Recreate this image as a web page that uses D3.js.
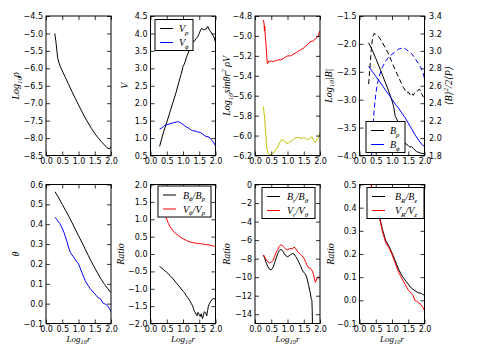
<!DOCTYPE html>
<html><head><meta charset="utf-8">
<script src="https://cdn.jsdelivr.net/npm/d3@7"></script>
<style>body{margin:0;background:#fff}svg{display:block}</style>
</head><body>
<svg id="c" width="479" height="359"></svg>
<script>
// ---------- DATA ----------
const xTicks = [0, 0.5, 1.0, 1.5, 2.0];
const logRho = [[0.27,-5.0],[0.3,-5.2],[0.33,-5.45],[0.36,-5.7],[0.39,-5.82],[0.45,-5.97],[0.5,-6.07],[0.6,-6.27],[0.7,-6.47],[0.8,-6.67],[0.9,-6.86],[1.0,-7.05],[1.1,-7.23],[1.2,-7.41],[1.3,-7.57],[1.4,-7.73],[1.5,-7.87],[1.6,-7.99],[1.7,-8.1],[1.8,-8.2],[1.88,-8.28],[1.94,-8.31],[1.98,-8.29],[2.0,-8.24]];
const vP = [[0.28,0.76],[0.35,1.0],[0.4,1.17],[0.5,1.45],[0.6,1.75],[0.7,2.05],[0.8,2.35],[0.9,2.7],[0.95,2.85],[1.0,3.05],[1.03,3.1],[1.07,3.2],[1.1,3.3],[1.15,3.42],[1.2,3.55],[1.25,3.62],[1.3,3.75],[1.35,3.78],[1.4,3.85],[1.45,3.9],[1.5,4.0],[1.55,4.12],[1.58,4.15],[1.62,4.1],[1.67,4.12],[1.72,4.13],[1.76,4.2],[1.8,4.12],[1.85,4.05],[1.9,3.98],[1.95,3.9],[2.0,3.75]];
const vPhi = [[0.28,1.26],[0.35,1.29],[0.4,1.33],[0.45,1.37],[0.5,1.38],[0.6,1.41],[0.7,1.44],[0.8,1.46],[0.85,1.47],[0.9,1.45],[0.95,1.42],[1.0,1.39],[1.05,1.35],[1.1,1.32],[1.2,1.27],[1.25,1.23],[1.3,1.21],[1.4,1.2],[1.45,1.17],[1.5,1.17],[1.55,1.15],[1.6,1.12],[1.65,1.08],[1.7,1.05],[1.8,1.03],[1.85,0.97],[1.9,0.93],[1.95,0.86],[2.0,0.78]];
const fluxRed = [[0.26,-4.84],[0.28,-4.88],[0.29,-4.95],[0.3,-4.9],[0.31,-4.97],[0.33,-5.05],[0.35,-5.14],[0.37,-5.25],[0.38,-5.28],[0.4,-5.27],[0.43,-5.25],[0.47,-5.26],[0.5,-5.25],[0.55,-5.26],[0.6,-5.25],[0.65,-5.25],[0.7,-5.24],[0.8,-5.24],[0.9,-5.22],[1.0,-5.2],[1.1,-5.2],[1.2,-5.18],[1.3,-5.16],[1.4,-5.14],[1.5,-5.12],[1.6,-5.09],[1.7,-5.06],[1.8,-5.05],[1.85,-5.03],[1.9,-5.02],[1.95,-5.0],[1.97,-4.97],[2.0,-4.95]];
const fluxYellow = [[0.26,-5.71],[0.28,-5.78],[0.3,-5.82],[0.31,-5.9],[0.33,-5.97],[0.35,-6.08],[0.37,-6.14],[0.4,-6.18],[0.45,-6.19],[0.5,-6.19],[0.55,-6.18],[0.6,-6.16],[0.67,-6.13],[0.72,-6.1],[0.78,-6.06],[0.82,-6.04],[0.88,-6.05],[0.95,-6.07],[1.02,-6.08],[1.08,-6.06],[1.14,-6.05],[1.2,-6.03],[1.28,-6.02],[1.35,-6.02],[1.42,-6.03],[1.5,-6.02],[1.56,-6.03],[1.62,-6.04],[1.68,-6.03],[1.75,-6.01],[1.8,-6.05],[1.85,-6.07],[1.9,-6.04],[1.95,-6.02],[2.0,-5.97]];
const bP = [[0.28,-1.98],[0.4,-2.12],[0.5,-2.26],[0.6,-2.4],[0.7,-2.55],[0.8,-2.7],[0.9,-2.85],[1.0,-3.02],[1.05,-3.12],[1.1,-3.3],[1.15,-3.35],[1.2,-3.42],[1.25,-3.55],[1.3,-3.66],[1.35,-3.72],[1.4,-3.78],[1.5,-3.82],[1.55,-3.85],[1.6,-3.84],[1.65,-3.87],[1.7,-3.9],[1.75,-3.93],[1.8,-3.94],[1.9,-3.96],[2.0,-3.97]];
const bPhi = [[0.28,-2.4],[0.4,-2.5],[0.5,-2.58],[0.6,-2.66],[0.7,-2.74],[0.8,-2.83],[0.9,-2.91],[1.0,-2.99],[1.1,-3.08],[1.2,-3.15],[1.3,-3.24],[1.4,-3.32],[1.5,-3.42],[1.6,-3.52],[1.7,-3.62],[1.8,-3.71],[1.9,-3.79],[2.0,-3.84]];
const betaP = [[0.28,2.62],[0.32,2.8],[0.36,3.0],[0.4,3.15],[0.45,3.2],[0.5,3.19],[0.6,3.16],[0.7,3.1],[0.8,3.03],[0.9,2.96],[1.0,2.87],[1.1,2.78],[1.2,2.7],[1.3,2.62],[1.35,2.58],[1.4,2.55],[1.45,2.52],[1.5,2.53],[1.55,2.5],[1.6,2.52],[1.65,2.49],[1.7,2.52],[1.75,2.52],[1.8,2.55],[1.85,2.56],[1.9,2.52],[1.95,2.48],[2.0,2.46]];
const betaPhi = [[0.37,1.8],[0.4,2.05],[0.45,2.32],[0.5,2.5],[0.55,2.62],[0.6,2.7],[0.7,2.81],[0.8,2.88],[0.9,2.93],[1.0,2.96],[1.1,2.99],[1.2,3.02],[1.3,3.03],[1.4,3.03],[1.45,3.01],[1.5,3.0],[1.6,2.97],[1.7,2.92],[1.8,2.86],[1.9,2.8],[1.95,2.76],[2.0,2.68]];
const thetaBlack = [[0.28,0.563],[0.4,0.53],[0.5,0.5],[0.6,0.47],[0.7,0.44],[0.8,0.408],[0.9,0.375],[1.0,0.342],[1.1,0.31],[1.2,0.276],[1.3,0.243],[1.4,0.21],[1.5,0.18],[1.6,0.15],[1.7,0.122],[1.8,0.097],[1.9,0.076],[2.0,0.055]];
const thetaBlue = [[0.28,0.435],[0.35,0.42],[0.42,0.405],[0.5,0.38],[0.55,0.36],[0.6,0.335],[0.65,0.31],[0.7,0.28],[0.75,0.258],[0.8,0.245],[0.85,0.235],[0.9,0.222],[0.95,0.21],[1.0,0.2],[1.05,0.18],[1.1,0.158],[1.15,0.138],[1.2,0.118],[1.25,0.103],[1.3,0.09],[1.35,0.078],[1.4,0.068],[1.45,0.058],[1.5,0.05],[1.55,0.04],[1.6,0.03],[1.65,0.028],[1.7,0.018],[1.75,0.003],[1.8,0.0],[1.85,-0.005],[1.9,-0.012],[1.95,-0.025],[2.0,-0.04]];
const bPhiOverBp = [[0.28,-0.36],[0.35,-0.41],[0.4,-0.45],[0.5,-0.53],[0.6,-0.62],[0.7,-0.72],[0.8,-0.84],[0.9,-0.95],[1.0,-1.07],[1.05,-1.12],[1.1,-1.2],[1.15,-1.26],[1.2,-1.33],[1.25,-1.42],[1.3,-1.5],[1.33,-1.6],[1.36,-1.66],[1.4,-1.73],[1.43,-1.78],[1.46,-1.68],[1.5,-1.74],[1.53,-1.8],[1.56,-1.72],[1.6,-1.86],[1.63,-1.75],[1.66,-1.66],[1.7,-1.7],[1.73,-1.78],[1.76,-1.62],[1.78,-1.5],[1.82,-1.42],[1.86,-1.35],[1.9,-1.3],[1.95,-1.28],[2.0,-1.3]];
const vPhiOverVp = [[0.28,1.66],[0.32,1.52],[0.36,1.4],[0.4,1.28],[0.45,1.12],[0.5,1.0],[0.55,0.88],[0.6,0.79],[0.7,0.66],[0.8,0.57],[0.9,0.5],[1.0,0.44],[1.1,0.39],[1.2,0.35],[1.3,0.33],[1.4,0.31],[1.5,0.3],[1.6,0.29],[1.7,0.27],[1.8,0.26],[1.9,0.24],[2.0,0.21]];
const brOverBth = [[0.26,-7.6],[0.3,-8.0],[0.35,-8.5],[0.4,-8.9],[0.45,-9.15],[0.5,-9.2],[0.55,-9.0],[0.6,-8.5],[0.65,-7.95],[0.7,-7.45],[0.75,-7.1],[0.8,-7.0],[0.85,-7.15],[0.9,-7.45],[0.95,-7.7],[1.0,-7.8],[1.05,-7.7],[1.1,-7.55],[1.15,-7.45],[1.2,-7.5],[1.25,-7.75],[1.3,-8.05],[1.35,-8.4],[1.4,-8.75],[1.45,-9.2],[1.5,-9.5],[1.55,-9.65],[1.6,-10.1],[1.65,-10.9],[1.7,-11.7],[1.73,-12.3],[1.75,-12.5],[1.76,-13.5],[1.77,-15.5]];
const vrOverVth = [[0.26,-7.6],[0.3,-7.85],[0.35,-8.15],[0.4,-8.35],[0.45,-8.45],[0.5,-8.4],[0.55,-8.2],[0.6,-7.8],[0.65,-7.3],[0.7,-7.0],[0.75,-6.65],[0.8,-6.5],[0.85,-6.6],[0.9,-6.8],[0.95,-7.0],[1.0,-7.05],[1.05,-6.95],[1.1,-6.9],[1.15,-6.95],[1.2,-6.75],[1.25,-6.9],[1.3,-7.2],[1.35,-7.4],[1.4,-7.55],[1.45,-7.7],[1.5,-7.95],[1.55,-8.3],[1.6,-8.7],[1.65,-9.0],[1.7,-9.05],[1.75,-9.25],[1.8,-9.7],[1.83,-10.2],[1.86,-10.55],[1.9,-10.2],[1.95,-9.95],[2.0,-10.1]];
const bROverBz = [[0.28,0.52],[0.35,0.5],[0.4,0.48],[0.5,0.43],[0.6,0.37],[0.7,0.31],[0.8,0.26],[0.9,0.235],[1.0,0.205],[1.1,0.17],[1.2,0.135],[1.3,0.108],[1.4,0.088],[1.5,0.07],[1.6,0.052],[1.7,0.042],[1.8,0.033],[1.9,0.03],[1.95,0.025],[2.0,0.022]];
const vROverVz = [[0.28,0.52],[0.35,0.5],[0.4,0.48],[0.5,0.43],[0.6,0.365],[0.7,0.3],[0.8,0.252],[0.9,0.228],[1.0,0.198],[1.1,0.16],[1.2,0.122],[1.3,0.095],[1.4,0.07],[1.5,0.045],[1.6,0.03],[1.65,0.02],[1.7,0.0],[1.75,-0.003],[1.8,-0.008],[1.9,-0.02],[1.95,-0.03],[2.0,-0.045]];

const yTicks1 = [-8.5,-8,-7.5,-7,-6.5,-6,-5.5,-5,-4.5];
const yTicks2 = [0.5,1,1.5,2,2.5,3,3.5,4,4.5];
const yTicks3 = [-6.2,-6,-5.8,-5.6,-5.4,-5.2,-5,-4.8];
const yTicks4L = [-4,-3.5,-3,-2.5,-2,-1.5];
const yTicks4R = [1.8,2,2.2,2.4,2.6,2.8,3,3.2,3.4];
const yTicks5 = [-0.1,0,0.1,0.2,0.3,0.4,0.5,0.6];
const yTicks6 = [-2,-1.5,-1,-0.5,0,0.5,1,1.5,2];
const yTicks7 = [-14,-12,-10,-8,-6,-4,-2,0];
const yTicks8 = [-0.1,0,0.1,0.2,0.3,0.4,0.5];

// ---------- LAYOUT ----------
const svg = d3.select("#c");
const colLeft = [46, 150.5, 255, 359.5];
const W = 65;
const rows = [{top: 16, bottom: 155.5}, {top: 184.5, bottom: 323.5}];
const SERIF = "'Liberation Serif','DejaVu Serif',serif";
const SANS = "'DejaVu Sans',sans-serif";
let clipId = 0;

function richText(g, x, y, parts, size, opts = {}) {
  const t = g.append("text").attr("x", x).attr("y", y)
    .attr("font-family", SERIF).attr("font-style", "italic")
    .attr("font-size", size).attr("fill", "#000");
  if (opts.anchor) t.attr("text-anchor", opts.anchor);
  if (opts.rotate) t.attr("transform", `rotate(-90,${x},${y})`);
  let shift = 0;
  parts.forEach(p => {
    const ts = t.append("tspan").text(p.t);
    let target = 0;
    if (p.sub) { ts.attr("font-size", size * 0.7); target = size * 0.25; }
    else if (p.sup) { ts.attr("font-size", size * 0.7); target = -size * 0.4; }
    ts.attr("dy", target - shift);
    shift = target;
  });
  return t;
}

function panel(opt) {
  const left = colLeft[opt.col], right = left + W;
  const {top, bottom} = rows[opt.row];
  const x = d3.scaleLinear().domain([0, 2]).range([left, right]);
  const y = d3.scaleLinear().domain(opt.yDomain).range([bottom, top]);
  const g = svg.append("g");
  const id = "clip" + (clipId++);
  g.append("clipPath").attr("id", id).append("rect")
    .attr("x", left).attr("y", top).attr("width", W).attr("height", bottom - top);
  const plot = g.append("g").attr("clip-path", `url(#${id})`);
  opt.series.forEach(s => {
    const ys = s.right ? opt.yRight : y;
    plot.append("path").datum(s.data)
      .attr("fill", "none").attr("stroke", s.color).attr("stroke-width", 1)
      .attr("stroke-dasharray", s.dash || null)
      .attr("stroke-linejoin", "round")
      .attr("d", d3.line().x(d => x(d[0])).y(d => ys(d[1])));
  });
  const fmtX = d3.format(".1f");
  const axB = g.append("g").attr("transform", `translate(0,${bottom})`)
    .call(d3.axisBottom(x).tickValues(xTicks).tickFormat(fmtX).tickSize(-4).tickPadding(3));
  const axT = g.append("g").attr("transform", `translate(0,${top})`)
    .call(d3.axisTop(x).tickValues(xTicks).tickFormat("").tickSize(-4));
  const axL = g.append("g").attr("transform", `translate(${left},0)`)
    .call(d3.axisLeft(y).tickValues(opt.yTicks).tickFormat(d3.format(opt.yFmt)).tickSize(-4).tickPadding(3));
  let axR;
  if (opt.yRight) {
    axR = g.append("g").attr("transform", `translate(${right},0)`)
      .call(d3.axisRight(opt.yRight).tickValues(opt.yTicksR).tickFormat(d3.format(".1f")).tickSize(-4).tickPadding(4.5));
  } else {
    axR = g.append("g").attr("transform", `translate(${right},0)`)
      .call(d3.axisRight(y).tickValues(opt.yTicks).tickFormat("").tickSize(-4));
  }
  [axB, axT, axL, axR].forEach(a => {
    a.select(".domain").remove();
    a.selectAll("line").attr("stroke", "#000").attr("stroke-width", 0.8);
    a.selectAll("text").attr("font-family", SANS).attr("font-size", 8).attr("fill", "#000");
  });
  g.append("rect").attr("x", left).attr("y", top).attr("width", W).attr("height", bottom - top)
    .attr("fill", "none").attr("stroke", "#000").attr("stroke-width", 1);
  const cy = (top + bottom) / 2;
  richText(g, left - (opt.ylabOff || 26), cy, opt.ylabel, 10, {anchor: "middle", rotate: true});
  if (opt.ylabelR) richText(g, right + 27, cy, opt.ylabelR, 10, {anchor: "middle", rotate: true});
  if (opt.row === 1) richText(g, (left + right) / 2, 342, [{t: "Log"}, {t: "10", sub: true}, {t: "r"}], 9, {anchor: "middle"});
  if (opt.legend) {
    const L = opt.legend;
    g.append("rect").attr("x", L.x).attr("y", L.y).attr("width", L.w).attr("height", 31)
      .attr("fill", "#fff").attr("stroke", "#000").attr("stroke-width", 1);
    L.items.forEach((it, i) => {
      const yy = L.y + 9 + i * 14;
      g.append("line").attr("x1", L.x + 5).attr("x2", L.x + 18).attr("y1", yy).attr("y2", yy)
        .attr("stroke", it.color).attr("stroke-width", 1);
      richText(g, L.x + L.tx, yy + 3.5, it.label, 10);
    });
  }
}

panel({row: 0, col: 0, yDomain: [-8.5, -4.5], yTicks: yTicks1, yFmt: ".1f",
  ylabel: [{t: "Log"}, {t: "10", sub: true}, {t: "ρ"}], ylabOff: 27,
  series: [{data: logRho, color: "#000"}]});
panel({row: 0, col: 1, yDomain: [0.5, 4.5], yTicks: yTicks2, yFmt: ".1f",
  ylabel: [{t: "V"}], ylabOff: 23,
  series: [{data: vP, color: "#000"}, {data: vPhi, color: "#0000ff"}],
  legend: {x: 155, y: 19.5, w: 38, tx: 24, items: [
    {color: "#000", label: [{t: "V"}, {t: "p", sub: true}]},
    {color: "#0000ff", label: [{t: "V"}, {t: "ϕ", sub: true}]}]}});
panel({row: 0, col: 2, yDomain: [-6.2, -4.8], yTicks: yTicks3, yFmt: ".1f",
  ylabel: [{t: "Log"}, {t: "10", sub: true}, {t: "sinθr"}, {t: "2", sup: true}, {t: " ρV"}], ylabOff: 25,
  series: [{data: fluxRed, color: "#ff0000"}, {data: fluxYellow, color: "#bfbf00"}]});
const yR4 = d3.scaleLinear().domain([1.8, 3.4]).range([rows[0].bottom, rows[0].top]);
panel({row: 0, col: 3, yDomain: [-4, -1.5], yTicks: yTicks4L, yFmt: ".1f",
  yRight: yR4, yTicksR: yTicks4R,
  ylabel: [{t: "Log"}, {t: "10", sub: true}, {t: "|B|"}], ylabOff: 28,
  ylabelR: [{t: "⟨B⟩"}, {t: "2", sup: true}, {t: "/2⟨P⟩"}],
  series: [{data: bP, color: "#000"}, {data: bPhi, color: "#0000ff"},
           {data: betaP, color: "#000", right: true, dash: "5,3"},
           {data: betaPhi, color: "#0000ff", right: true, dash: "5,3"}],
  legend: {x: 366, y: 121.5, w: 39, tx: 24, items: [
    {color: "#000", label: [{t: "B"}, {t: "p", sub: true}]},
    {color: "#0000ff", label: [{t: "B"}, {t: "ϕ", sub: true}]}]}});
panel({row: 1, col: 0, yDomain: [-0.1, 0.6], yTicks: yTicks5, yFmt: ".1f",
  ylabel: [{t: "θ"}], ylabOff: 27,
  series: [{data: thetaBlack, color: "#000"}, {data: thetaBlue, color: "#0000ff"}]});
panel({row: 1, col: 1, yDomain: [-2, 2], yTicks: yTicks6, yFmt: ".1f",
  ylabel: [{t: "Ratio"}], ylabOff: 27,
  series: [{data: bPhiOverBp, color: "#000"}, {data: vPhiOverVp, color: "#ff0000"}],
  legend: {x: 158, y: 186, w: 53, tx: 25, items: [
    {color: "#000", label: [{t: "B"}, {t: "ϕ", sub: true}, {t: "/B"}, {t: "p", sub: true}]},
    {color: "#ff0000", label: [{t: "V"}, {t: "ϕ", sub: true}, {t: "/V"}, {t: "p", sub: true}]}]}});
panel({row: 1, col: 2, yDomain: [-15, 0], yTicks: yTicks7, yFmt: "d",
  ylabel: [{t: "Ratio"}], ylabOff: 25,
  series: [{data: brOverBth, color: "#000"}, {data: vrOverVth, color: "#ff0000"}],
  legend: {x: 262, y: 187.5, w: 53, tx: 25, items: [
    {color: "#000", label: [{t: "B"}, {t: "r", sub: true}, {t: "/B"}, {t: "θ", sub: true}]},
    {color: "#ff0000", label: [{t: "V"}, {t: "r", sub: true}, {t: "/V"}, {t: "θ", sub: true}]}]}});
panel({row: 1, col: 3, yDomain: [-0.1, 0.5], yTicks: yTicks8, yFmt: ".1f",
  ylabel: [{t: "Ratio"}], ylabOff: 26,
  series: [{data: bROverBz, color: "#000"}, {data: vROverVz, color: "#ff0000"}],
  legend: {x: 367, y: 187.5, w: 57, tx: 28, items: [
    {color: "#000", label: [{t: "B"}, {t: "R", sub: true}, {t: "/B"}, {t: "z", sub: true}]},
    {color: "#ff0000", label: [{t: "V"}, {t: "R", sub: true}, {t: "/V"}, {t: "z", sub: true}]}]}});
</script>
</body></html>
